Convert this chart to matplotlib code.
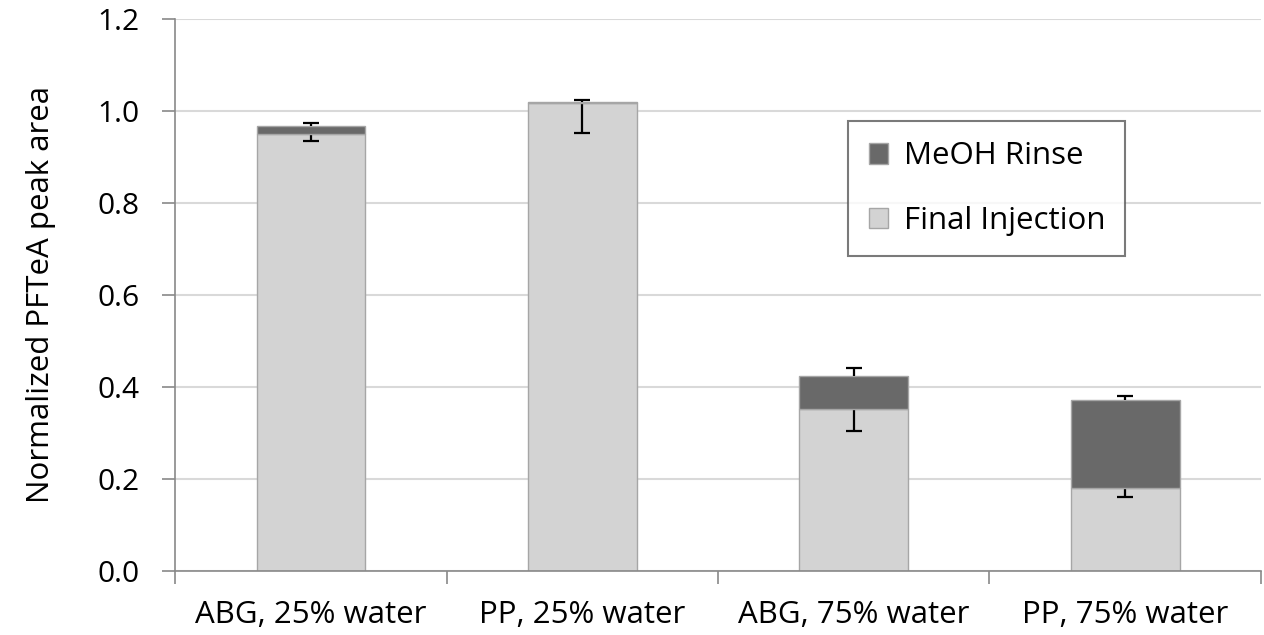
import matplotlib.pyplot as plt
import numpy as np

# data
labels = ['ABG, 25% water', 'PP, 25% water', 'ABG, 75% water', 'PP, 75% water']
final_injection = [0.950, 1.017, 0.353, 0.180]
meoh_rinse = [0.017, 0.003, 0.071, 0.191]
err_low = [0.015, 0.065, 0.048, 0.019]   # below top of final injection
err_high = [0.007, 0.004, 0.017, 0.010]  # above top of stacked bar

plt.rcParams['font.family'] = ['Open Sans', 'DejaVu Sans']

fig = plt.figure(figsize=(12.64, 6.35), dpi=100)
ax = fig.add_axes([0.1385, 0.1008, 0.8591, 0.8693])

x = np.arange(len(labels))
final = np.array(final_injection)
rinse = np.array(meoh_rinse)
total = final + rinse
zeros = np.zeros(len(labels))
barWidth = 0.4

ax.bar(x, final, width=barWidth, color='#d3d3d3', edgecolor='#a6a6a6', linewidth=1,
       label='Final Injection', zorder=2)
# lower error bar belongs to final injection (drawn under the rinse bar)
ax.errorbar(x, final, yerr=[err_low, zeros], fmt='none', ecolor='black',
            elinewidth=1.6, capsize=0, zorder=3)
ax.plot(x, final - np.array(err_low), ls='none', marker='_', ms=11.5, mew=1.6,
        color='black', zorder=3)

ax.bar(x, rinse, bottom=final, width=barWidth, color='#696969', edgecolor='#a6a6a6',
       linewidth=1, label='MeOH Rinse', zorder=4)
# upper error bar belongs to the stacked total
ax.errorbar(x, total, yerr=[zeros, err_high], fmt='none', ecolor='black',
            elinewidth=1.6, capsize=0, zorder=5)
ax.plot(x, total + np.array(err_high), ls='none', marker='_', ms=11.5, mew=1.6,
        color='black', zorder=5)

ax.set_xlim(-0.5, len(labels) - 0.5)
ax.set_ylim(0, 1.2)
yt = np.arange(0, 1.21, 0.2)
ax.set_yticks(yt)
ax.set_yticklabels(['%.1f' % v for v in yt], fontsize=21.5)
ax.yaxis.grid(True, color='#d9d9d9', linewidth=1.5, zorder=0)
ax.set_axisbelow(True)

# category boundaries as ticks, labels in the middle
ax.set_xticks(np.arange(-0.5, len(labels), 1.0))
ax.set_xticklabels([])
ax.set_xticks(x, minor=True)
ax.set_xticklabels(labels, minor=True, fontsize=22.5)
ax.tick_params(axis='x', which='major', length=9, width=1.2, color='#898989', direction='out')
ax.tick_params(axis='x', which='minor', length=0, pad=21)
ax.tick_params(axis='y', length=9.4, width=1.2, color='#898989', direction='out', pad=16)

for s in ['top', 'right']:
    ax.spines[s].set_visible(False)
for s in ['left', 'bottom']:
    ax.spines[s].set_color('#898989')
    ax.spines[s].set_linewidth(1.2)

ax.set_ylabel('Normalized PFTeA peak area', fontsize=22.5, labelpad=30)

handles, lbls = ax.get_legend_handles_labels()
leg = ax.legend(handles[::-1], lbls[::-1], loc='upper left', bbox_to_anchor=(0.62, 0.815),
                borderaxespad=0, fontsize=22.5, frameon=True, fancybox=False,
                edgecolor='#595959', handlelength=0.62, handleheight=0.62,
                handletextpad=0.5, labelspacing=1.1, borderpad=0.65)
leg.get_frame().set_linewidth(1.5)

plt.savefig('out.png', dpi=100)
